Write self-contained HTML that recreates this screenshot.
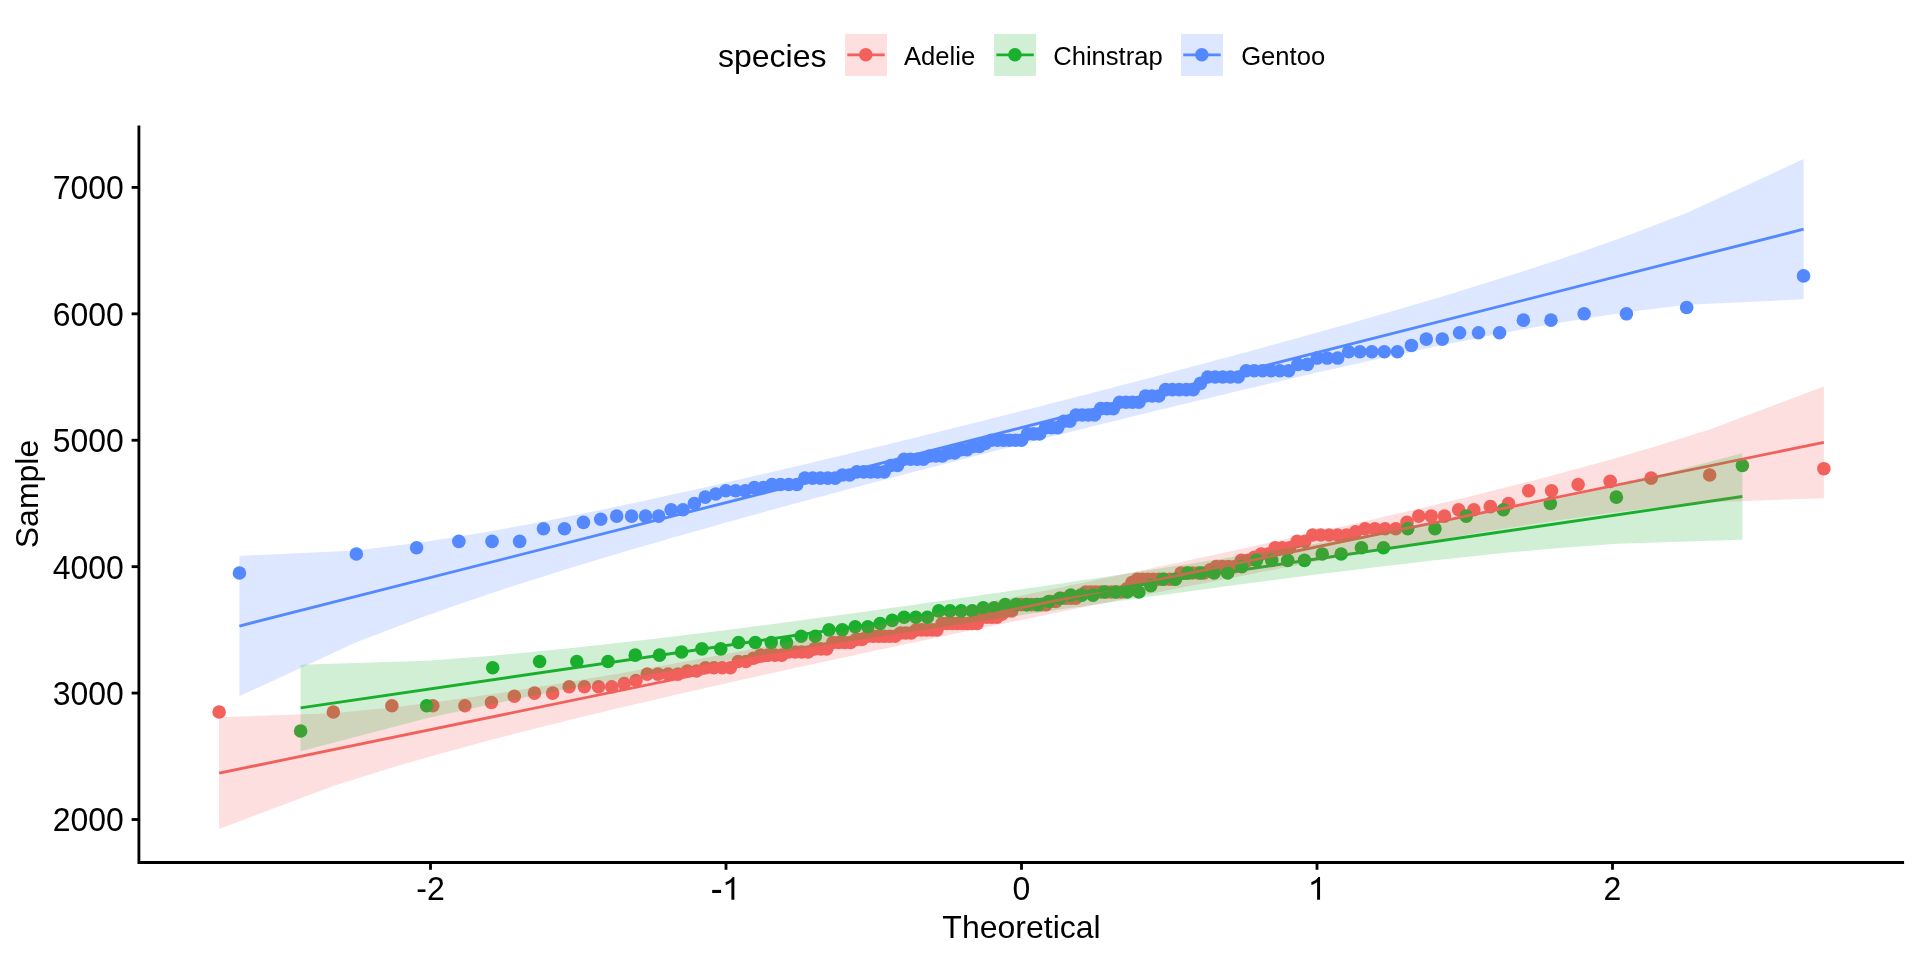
<!DOCTYPE html><html><head><meta charset="utf-8"><style>html,body{margin:0;padding:0;background:#fff;width:1920px;height:960px;overflow:hidden}svg{display:block;will-change:transform}text{font-family:"Liberation Sans",sans-serif;fill:#000}</style></head><body>
<svg width="1920" height="960" viewBox="0 0 1920 960">
<rect width="1920" height="960" fill="#fff"/>
<g fill="#F2615B">
<circle cx="219.14" cy="712.04" r="6.8"/><circle cx="333.33" cy="712.04" r="6.8"/><circle cx="391.87" cy="705.72" r="6.8"/><circle cx="432.83" cy="705.72" r="6.8"/><circle cx="464.86" cy="705.72" r="6.8"/><circle cx="491.44" cy="702.56" r="6.8"/><circle cx="514.31" cy="696.24" r="6.8"/><circle cx="534.49" cy="693.08" r="6.8"/><circle cx="552.63" cy="693.08" r="6.8"/><circle cx="569.16" cy="686.76" r="6.8"/><circle cx="584.38" cy="686.76" r="6.8"/><circle cx="598.52" cy="686.76" r="6.8"/><circle cx="611.76" cy="686.76" r="6.8"/><circle cx="624.22" cy="683.60" r="6.8"/><circle cx="636.01" cy="680.44" r="6.8"/><circle cx="647.22" cy="674.12" r="6.8"/><circle cx="657.91" cy="674.12" r="6.8"/><circle cx="668.15" cy="674.12" r="6.8"/><circle cx="677.98" cy="674.12" r="6.8"/><circle cx="687.45" cy="670.96" r="6.8"/><circle cx="696.58" cy="670.96" r="6.8"/><circle cx="705.41" cy="667.80" r="6.8"/><circle cx="713.97" cy="667.80" r="6.8"/><circle cx="722.28" cy="667.80" r="6.8"/><circle cx="730.36" cy="667.80" r="6.8"/><circle cx="738.23" cy="661.48" r="6.8"/><circle cx="745.90" cy="661.48" r="6.8"/><circle cx="753.39" cy="658.31" r="6.8"/><circle cx="760.71" cy="655.15" r="6.8"/><circle cx="767.87" cy="655.15" r="6.8"/><circle cx="774.89" cy="655.15" r="6.8"/><circle cx="781.77" cy="655.15" r="6.8"/><circle cx="788.53" cy="651.99" r="6.8"/><circle cx="795.16" cy="651.99" r="6.8"/><circle cx="801.69" cy="651.99" r="6.8"/><circle cx="808.10" cy="651.99" r="6.8"/><circle cx="814.42" cy="648.83" r="6.8"/><circle cx="820.65" cy="648.83" r="6.8"/><circle cx="826.78" cy="648.83" r="6.8"/><circle cx="832.84" cy="642.51" r="6.8"/><circle cx="838.81" cy="642.51" r="6.8"/><circle cx="844.72" cy="642.51" r="6.8"/><circle cx="850.55" cy="642.51" r="6.8"/><circle cx="856.31" cy="639.35" r="6.8"/><circle cx="862.02" cy="639.35" r="6.8"/><circle cx="867.66" cy="636.19" r="6.8"/><circle cx="873.25" cy="636.19" r="6.8"/><circle cx="878.79" cy="636.19" r="6.8"/><circle cx="884.28" cy="636.19" r="6.8"/><circle cx="889.72" cy="636.19" r="6.8"/><circle cx="895.12" cy="636.19" r="6.8"/><circle cx="900.47" cy="633.03" r="6.8"/><circle cx="905.79" cy="633.03" r="6.8"/><circle cx="911.06" cy="633.03" r="6.8"/><circle cx="916.31" cy="629.87" r="6.8"/><circle cx="921.52" cy="629.87" r="6.8"/><circle cx="926.70" cy="629.87" r="6.8"/><circle cx="931.85" cy="629.87" r="6.8"/><circle cx="936.97" cy="629.87" r="6.8"/><circle cx="942.07" cy="623.55" r="6.8"/><circle cx="947.14" cy="623.55" r="6.8"/><circle cx="952.19" cy="623.55" r="6.8"/><circle cx="957.23" cy="623.55" r="6.8"/><circle cx="962.24" cy="623.55" r="6.8"/><circle cx="967.24" cy="623.55" r="6.8"/><circle cx="972.22" cy="623.55" r="6.8"/><circle cx="977.19" cy="623.55" r="6.8"/><circle cx="982.14" cy="617.23" r="6.8"/><circle cx="987.08" cy="617.23" r="6.8"/><circle cx="992.02" cy="617.23" r="6.8"/><circle cx="996.94" cy="617.23" r="6.8"/><circle cx="1001.86" cy="614.07" r="6.8"/><circle cx="1006.78" cy="610.91" r="6.8"/><circle cx="1011.69" cy="610.91" r="6.8"/><circle cx="1016.59" cy="604.59" r="6.8"/><circle cx="1021.50" cy="604.59" r="6.8"/><circle cx="1026.41" cy="604.59" r="6.8"/><circle cx="1031.31" cy="604.59" r="6.8"/><circle cx="1036.22" cy="604.59" r="6.8"/><circle cx="1041.14" cy="604.59" r="6.8"/><circle cx="1046.06" cy="604.59" r="6.8"/><circle cx="1050.98" cy="601.43" r="6.8"/><circle cx="1055.92" cy="601.43" r="6.8"/><circle cx="1060.86" cy="598.26" r="6.8"/><circle cx="1065.81" cy="598.26" r="6.8"/><circle cx="1070.78" cy="598.26" r="6.8"/><circle cx="1075.76" cy="598.26" r="6.8"/><circle cx="1080.76" cy="595.10" r="6.8"/><circle cx="1085.77" cy="591.94" r="6.8"/><circle cx="1090.81" cy="591.94" r="6.8"/><circle cx="1095.86" cy="591.94" r="6.8"/><circle cx="1100.93" cy="591.94" r="6.8"/><circle cx="1106.03" cy="591.94" r="6.8"/><circle cx="1111.15" cy="591.94" r="6.8"/><circle cx="1116.30" cy="591.94" r="6.8"/><circle cx="1121.48" cy="591.94" r="6.8"/><circle cx="1126.69" cy="588.78" r="6.8"/><circle cx="1131.94" cy="582.46" r="6.8"/><circle cx="1137.21" cy="579.30" r="6.8"/><circle cx="1142.53" cy="579.30" r="6.8"/><circle cx="1147.88" cy="579.30" r="6.8"/><circle cx="1153.28" cy="579.30" r="6.8"/><circle cx="1158.72" cy="579.30" r="6.8"/><circle cx="1164.21" cy="579.30" r="6.8"/><circle cx="1169.75" cy="579.30" r="6.8"/><circle cx="1175.34" cy="579.30" r="6.8"/><circle cx="1180.98" cy="572.98" r="6.8"/><circle cx="1186.69" cy="572.98" r="6.8"/><circle cx="1192.45" cy="572.98" r="6.8"/><circle cx="1198.28" cy="572.98" r="6.8"/><circle cx="1204.19" cy="572.98" r="6.8"/><circle cx="1210.16" cy="569.82" r="6.8"/><circle cx="1216.22" cy="566.66" r="6.8"/><circle cx="1222.35" cy="566.66" r="6.8"/><circle cx="1228.58" cy="566.66" r="6.8"/><circle cx="1234.90" cy="566.66" r="6.8"/><circle cx="1241.31" cy="560.34" r="6.8"/><circle cx="1247.84" cy="560.34" r="6.8"/><circle cx="1254.47" cy="557.18" r="6.8"/><circle cx="1261.23" cy="554.02" r="6.8"/><circle cx="1268.11" cy="554.02" r="6.8"/><circle cx="1275.13" cy="547.70" r="6.8"/><circle cx="1282.29" cy="547.70" r="6.8"/><circle cx="1289.61" cy="547.70" r="6.8"/><circle cx="1297.10" cy="541.38" r="6.8"/><circle cx="1304.77" cy="541.38" r="6.8"/><circle cx="1312.64" cy="535.06" r="6.8"/><circle cx="1320.72" cy="535.06" r="6.8"/><circle cx="1329.03" cy="535.06" r="6.8"/><circle cx="1337.59" cy="535.06" r="6.8"/><circle cx="1346.42" cy="535.06" r="6.8"/><circle cx="1355.55" cy="531.89" r="6.8"/><circle cx="1365.02" cy="528.73" r="6.8"/><circle cx="1374.85" cy="528.73" r="6.8"/><circle cx="1385.09" cy="528.73" r="6.8"/><circle cx="1395.78" cy="528.73" r="6.8"/><circle cx="1406.99" cy="522.41" r="6.8"/><circle cx="1418.78" cy="516.09" r="6.8"/><circle cx="1431.24" cy="516.09" r="6.8"/><circle cx="1444.48" cy="516.09" r="6.8"/><circle cx="1458.62" cy="509.77" r="6.8"/><circle cx="1473.84" cy="509.77" r="6.8"/><circle cx="1490.37" cy="506.61" r="6.8"/><circle cx="1508.51" cy="503.45" r="6.8"/><circle cx="1528.69" cy="490.81" r="6.8"/><circle cx="1551.56" cy="490.81" r="6.8"/><circle cx="1578.14" cy="484.49" r="6.8"/><circle cx="1610.17" cy="481.33" r="6.8"/><circle cx="1651.13" cy="478.17" r="6.8"/><circle cx="1709.67" cy="475.01" r="6.8"/><circle cx="1823.86" cy="468.68" r="6.8"/>
</g>
<g fill="#1AB02E">
<circle cx="300.62" cy="731.01" r="6.8"/><circle cx="426.67" cy="705.72" r="6.8"/><circle cx="492.69" cy="667.80" r="6.8"/><circle cx="539.61" cy="661.48" r="6.8"/><circle cx="576.81" cy="661.48" r="6.8"/><circle cx="608.05" cy="661.48" r="6.8"/><circle cx="635.25" cy="655.15" r="6.8"/><circle cx="659.52" cy="655.15" r="6.8"/><circle cx="681.57" cy="651.99" r="6.8"/><circle cx="701.87" cy="648.83" r="6.8"/><circle cx="720.77" cy="648.83" r="6.8"/><circle cx="738.51" cy="642.51" r="6.8"/><circle cx="755.29" cy="642.51" r="6.8"/><circle cx="771.25" cy="642.51" r="6.8"/><circle cx="786.50" cy="642.51" r="6.8"/><circle cx="801.16" cy="636.19" r="6.8"/><circle cx="815.30" cy="636.19" r="6.8"/><circle cx="828.97" cy="629.87" r="6.8"/><circle cx="842.25" cy="629.87" r="6.8"/><circle cx="855.17" cy="626.71" r="6.8"/><circle cx="867.79" cy="626.71" r="6.8"/><circle cx="880.13" cy="623.55" r="6.8"/><circle cx="892.23" cy="620.39" r="6.8"/><circle cx="904.11" cy="617.23" r="6.8"/><circle cx="915.81" cy="617.23" r="6.8"/><circle cx="927.34" cy="617.23" r="6.8"/><circle cx="938.73" cy="610.91" r="6.8"/><circle cx="950.01" cy="610.91" r="6.8"/><circle cx="961.17" cy="610.91" r="6.8"/><circle cx="972.26" cy="610.91" r="6.8"/><circle cx="983.27" cy="607.75" r="6.8"/><circle cx="994.23" cy="607.75" r="6.8"/><circle cx="1005.15" cy="604.59" r="6.8"/><circle cx="1016.05" cy="604.59" r="6.8"/><circle cx="1026.95" cy="604.59" r="6.8"/><circle cx="1037.85" cy="604.59" r="6.8"/><circle cx="1048.77" cy="601.43" r="6.8"/><circle cx="1059.73" cy="598.26" r="6.8"/><circle cx="1070.74" cy="595.10" r="6.8"/><circle cx="1081.83" cy="595.10" r="6.8"/><circle cx="1092.99" cy="595.10" r="6.8"/><circle cx="1104.27" cy="591.94" r="6.8"/><circle cx="1115.66" cy="591.94" r="6.8"/><circle cx="1127.19" cy="591.94" r="6.8"/><circle cx="1138.89" cy="591.94" r="6.8"/><circle cx="1150.77" cy="585.62" r="6.8"/><circle cx="1162.87" cy="579.30" r="6.8"/><circle cx="1175.21" cy="579.30" r="6.8"/><circle cx="1187.83" cy="572.98" r="6.8"/><circle cx="1200.75" cy="572.98" r="6.8"/><circle cx="1214.03" cy="572.98" r="6.8"/><circle cx="1227.70" cy="572.98" r="6.8"/><circle cx="1241.84" cy="566.66" r="6.8"/><circle cx="1256.50" cy="560.34" r="6.8"/><circle cx="1271.75" cy="560.34" r="6.8"/><circle cx="1287.71" cy="560.34" r="6.8"/><circle cx="1304.49" cy="560.34" r="6.8"/><circle cx="1322.23" cy="554.02" r="6.8"/><circle cx="1341.13" cy="554.02" r="6.8"/><circle cx="1361.43" cy="547.70" r="6.8"/><circle cx="1383.48" cy="547.70" r="6.8"/><circle cx="1407.75" cy="528.73" r="6.8"/><circle cx="1434.95" cy="528.73" r="6.8"/><circle cx="1466.19" cy="516.09" r="6.8"/><circle cx="1503.39" cy="509.77" r="6.8"/><circle cx="1550.31" cy="503.45" r="6.8"/><circle cx="1616.33" cy="497.13" r="6.8"/><circle cx="1742.38" cy="465.52" r="6.8"/>
</g>
<g fill="#5389FF">
<circle cx="239.42" cy="572.98" r="6.8"/><circle cx="356.35" cy="554.02" r="6.8"/><circle cx="416.59" cy="547.70" r="6.8"/><circle cx="458.87" cy="541.38" r="6.8"/><circle cx="492.03" cy="541.38" r="6.8"/><circle cx="519.62" cy="541.38" r="6.8"/><circle cx="543.42" cy="528.73" r="6.8"/><circle cx="564.47" cy="528.73" r="6.8"/><circle cx="583.43" cy="522.41" r="6.8"/><circle cx="600.73" cy="519.25" r="6.8"/><circle cx="616.71" cy="516.09" r="6.8"/><circle cx="631.58" cy="516.09" r="6.8"/><circle cx="645.52" cy="516.09" r="6.8"/><circle cx="658.68" cy="516.09" r="6.8"/><circle cx="671.15" cy="509.77" r="6.8"/><circle cx="683.03" cy="509.77" r="6.8"/><circle cx="694.38" cy="503.45" r="6.8"/><circle cx="705.27" cy="497.13" r="6.8"/><circle cx="715.75" cy="493.97" r="6.8"/><circle cx="725.86" cy="490.81" r="6.8"/><circle cx="735.63" cy="490.81" r="6.8"/><circle cx="745.10" cy="490.81" r="6.8"/><circle cx="754.29" cy="487.65" r="6.8"/><circle cx="763.23" cy="487.65" r="6.8"/><circle cx="771.94" cy="484.49" r="6.8"/><circle cx="780.44" cy="484.49" r="6.8"/><circle cx="788.75" cy="484.49" r="6.8"/><circle cx="796.87" cy="484.49" r="6.8"/><circle cx="804.83" cy="478.17" r="6.8"/><circle cx="812.63" cy="478.17" r="6.8"/><circle cx="820.29" cy="478.17" r="6.8"/><circle cx="827.82" cy="478.17" r="6.8"/><circle cx="835.23" cy="478.17" r="6.8"/><circle cx="842.52" cy="475.01" r="6.8"/><circle cx="849.70" cy="475.01" r="6.8"/><circle cx="856.78" cy="471.85" r="6.8"/><circle cx="863.77" cy="471.85" r="6.8"/><circle cx="870.67" cy="471.85" r="6.8"/><circle cx="877.49" cy="471.85" r="6.8"/><circle cx="884.23" cy="471.85" r="6.8"/><circle cx="890.91" cy="465.52" r="6.8"/><circle cx="897.52" cy="465.52" r="6.8"/><circle cx="904.06" cy="459.20" r="6.8"/><circle cx="910.55" cy="459.20" r="6.8"/><circle cx="916.99" cy="459.20" r="6.8"/><circle cx="923.37" cy="459.20" r="6.8"/><circle cx="929.71" cy="456.04" r="6.8"/><circle cx="936.01" cy="456.04" r="6.8"/><circle cx="942.27" cy="456.04" r="6.8"/><circle cx="948.50" cy="452.88" r="6.8"/><circle cx="954.69" cy="452.88" r="6.8"/><circle cx="960.86" cy="449.72" r="6.8"/><circle cx="966.99" cy="449.72" r="6.8"/><circle cx="973.11" cy="446.56" r="6.8"/><circle cx="979.20" cy="446.56" r="6.8"/><circle cx="985.28" cy="443.40" r="6.8"/><circle cx="991.34" cy="440.24" r="6.8"/><circle cx="997.39" cy="440.24" r="6.8"/><circle cx="1003.42" cy="440.24" r="6.8"/><circle cx="1009.45" cy="440.24" r="6.8"/><circle cx="1015.48" cy="440.24" r="6.8"/><circle cx="1021.50" cy="440.24" r="6.8"/><circle cx="1027.52" cy="433.92" r="6.8"/><circle cx="1033.55" cy="433.92" r="6.8"/><circle cx="1039.58" cy="433.92" r="6.8"/><circle cx="1045.61" cy="427.60" r="6.8"/><circle cx="1051.66" cy="427.60" r="6.8"/><circle cx="1057.72" cy="427.60" r="6.8"/><circle cx="1063.80" cy="421.28" r="6.8"/><circle cx="1069.89" cy="421.28" r="6.8"/><circle cx="1076.01" cy="414.96" r="6.8"/><circle cx="1082.14" cy="414.96" r="6.8"/><circle cx="1088.31" cy="414.96" r="6.8"/><circle cx="1094.50" cy="414.96" r="6.8"/><circle cx="1100.73" cy="408.63" r="6.8"/><circle cx="1106.99" cy="408.63" r="6.8"/><circle cx="1113.29" cy="408.63" r="6.8"/><circle cx="1119.63" cy="402.31" r="6.8"/><circle cx="1126.01" cy="402.31" r="6.8"/><circle cx="1132.45" cy="402.31" r="6.8"/><circle cx="1138.94" cy="402.31" r="6.8"/><circle cx="1145.48" cy="395.99" r="6.8"/><circle cx="1152.09" cy="395.99" r="6.8"/><circle cx="1158.77" cy="395.99" r="6.8"/><circle cx="1165.51" cy="389.67" r="6.8"/><circle cx="1172.33" cy="389.67" r="6.8"/><circle cx="1179.23" cy="389.67" r="6.8"/><circle cx="1186.22" cy="389.67" r="6.8"/><circle cx="1193.30" cy="389.67" r="6.8"/><circle cx="1200.48" cy="383.35" r="6.8"/><circle cx="1207.77" cy="377.03" r="6.8"/><circle cx="1215.18" cy="377.03" r="6.8"/><circle cx="1222.71" cy="377.03" r="6.8"/><circle cx="1230.37" cy="377.03" r="6.8"/><circle cx="1238.17" cy="377.03" r="6.8"/><circle cx="1246.13" cy="370.71" r="6.8"/><circle cx="1254.25" cy="370.71" r="6.8"/><circle cx="1262.56" cy="370.71" r="6.8"/><circle cx="1271.06" cy="370.71" r="6.8"/><circle cx="1279.77" cy="370.71" r="6.8"/><circle cx="1288.71" cy="370.71" r="6.8"/><circle cx="1297.90" cy="364.39" r="6.8"/><circle cx="1307.37" cy="364.39" r="6.8"/><circle cx="1317.14" cy="358.07" r="6.8"/><circle cx="1327.25" cy="358.07" r="6.8"/><circle cx="1337.73" cy="358.07" r="6.8"/><circle cx="1348.62" cy="351.75" r="6.8"/><circle cx="1359.97" cy="351.75" r="6.8"/><circle cx="1371.85" cy="351.75" r="6.8"/><circle cx="1384.32" cy="351.75" r="6.8"/><circle cx="1397.48" cy="351.75" r="6.8"/><circle cx="1411.42" cy="345.43" r="6.8"/><circle cx="1426.29" cy="339.10" r="6.8"/><circle cx="1442.27" cy="339.10" r="6.8"/><circle cx="1459.57" cy="332.78" r="6.8"/><circle cx="1478.53" cy="332.78" r="6.8"/><circle cx="1499.58" cy="332.78" r="6.8"/><circle cx="1523.38" cy="320.14" r="6.8"/><circle cx="1550.97" cy="320.14" r="6.8"/><circle cx="1584.13" cy="313.82" r="6.8"/><circle cx="1626.41" cy="313.82" r="6.8"/><circle cx="1686.65" cy="307.50" r="6.8"/><circle cx="1803.58" cy="275.89" r="6.8"/>
</g>
<line x1="219.14" y1="773.15" x2="1823.86" y2="442.35" stroke="#F2615B" stroke-width="2.84"/>
<line x1="300.62" y1="707.95" x2="1742.38" y2="496.48" stroke="#1AB02E" stroke-width="2.84"/>
<line x1="239.42" y1="626.02" x2="1803.58" y2="229.18" stroke="#5389FF" stroke-width="2.84"/>
<path d="M219.14,717.33 L333.33,713.24 L391.87,707.46 L432.83,702.44 L464.86,698.08 L491.44,694.22 L514.31,690.74 L534.49,687.56 L552.63,684.63 L569.16,681.91 L584.38,679.35 L598.52,676.95 L611.76,674.66 L624.22,672.49 L636.01,670.41 L647.22,668.42 L657.91,666.50 L668.15,664.65 L677.98,662.87 L687.45,661.14 L696.58,659.46 L705.41,657.83 L713.97,656.24 L722.28,654.69 L730.36,653.17 L738.23,651.70 L745.90,650.25 L753.39,648.83 L760.71,647.44 L767.87,646.07 L774.89,644.73 L781.77,643.41 L788.53,642.11 L795.16,640.84 L801.69,639.58 L808.10,638.33 L814.42,637.11 L820.65,635.89 L826.78,634.70 L832.84,633.51 L838.81,632.34 L844.72,631.19 L850.55,630.04 L856.31,628.90 L862.02,627.78 L867.66,626.66 L873.25,625.56 L878.79,624.46 L884.28,623.37 L889.72,622.28 L895.12,621.21 L900.47,620.14 L905.79,619.08 L911.06,618.02 L916.31,616.97 L921.52,615.92 L926.70,614.88 L931.85,613.84 L936.97,612.81 L942.07,611.78 L947.14,610.76 L952.19,609.73 L957.23,608.71 L962.24,607.70 L967.24,606.68 L972.22,605.67 L977.19,604.65 L982.14,603.64 L987.08,602.63 L992.02,601.62 L996.94,600.62 L1001.86,599.61 L1006.78,598.60 L1011.69,597.59 L1016.59,596.58 L1021.50,595.57 L1026.41,594.56 L1031.31,593.54 L1036.22,592.53 L1041.14,591.51 L1046.06,590.49 L1050.98,589.47 L1055.92,588.44 L1060.86,587.42 L1065.81,586.38 L1070.78,585.35 L1075.76,584.31 L1080.76,583.26 L1085.77,582.21 L1090.81,581.16 L1095.86,580.10 L1100.93,579.03 L1106.03,577.96 L1111.15,576.88 L1116.30,575.80 L1121.48,574.70 L1126.69,573.60 L1131.94,572.49 L1137.21,571.37 L1142.53,570.24 L1147.88,569.10 L1153.28,567.95 L1158.72,566.79 L1164.21,565.62 L1169.75,564.44 L1175.34,563.24 L1180.98,562.03 L1186.69,560.80 L1192.45,559.56 L1198.28,558.30 L1204.19,557.03 L1210.16,555.73 L1216.22,554.42 L1222.35,553.09 L1228.58,551.73 L1234.90,550.35 L1241.31,548.95 L1247.84,547.52 L1254.47,546.06 L1261.23,544.58 L1268.11,543.06 L1275.13,541.51 L1282.29,539.92 L1289.61,538.29 L1297.10,536.62 L1304.77,534.91 L1312.64,533.14 L1320.72,531.32 L1329.03,529.45 L1337.59,527.51 L1346.42,525.50 L1355.55,523.41 L1365.02,521.24 L1374.85,518.97 L1385.09,516.60 L1395.78,514.11 L1406.99,511.48 L1418.78,508.69 L1431.24,505.73 L1444.48,502.56 L1458.62,499.14 L1473.84,495.42 L1490.37,491.33 L1508.51,486.78 L1528.69,481.63 L1551.56,475.68 L1578.14,468.59 L1610.17,459.74 L1651.13,447.87 L1709.67,429.52 L1823.86,386.53 L1823.86,498.17 L1709.67,502.25 L1651.13,508.03 L1610.17,513.05 L1578.14,517.41 L1551.56,521.28 L1528.69,524.76 L1508.51,527.93 L1490.37,530.86 L1473.84,533.58 L1458.62,536.14 L1444.48,538.55 L1431.24,540.83 L1418.78,543.01 L1406.99,545.08 L1395.78,547.08 L1385.09,548.99 L1374.85,550.84 L1365.02,552.63 L1355.55,554.36 L1346.42,556.04 L1337.59,557.67 L1329.03,559.26 L1320.72,560.81 L1312.64,562.32 L1304.77,563.80 L1297.10,565.25 L1289.61,566.66 L1282.29,568.05 L1275.13,569.42 L1268.11,570.76 L1261.23,572.08 L1254.47,573.38 L1247.84,574.66 L1241.31,575.92 L1234.90,577.16 L1228.58,578.39 L1222.35,579.60 L1216.22,580.80 L1210.16,581.98 L1204.19,583.15 L1198.28,584.31 L1192.45,585.45 L1186.69,586.59 L1180.98,587.71 L1175.34,588.83 L1169.75,589.94 L1164.21,591.04 L1158.72,592.13 L1153.28,593.21 L1147.88,594.28 L1142.53,595.35 L1137.21,596.42 L1131.94,597.47 L1126.69,598.52 L1121.48,599.57 L1116.30,600.61 L1111.15,601.65 L1106.03,602.68 L1100.93,603.71 L1095.86,604.74 L1090.81,605.76 L1085.77,606.78 L1080.76,607.80 L1075.76,608.81 L1070.78,609.83 L1065.81,610.84 L1060.86,611.85 L1055.92,612.86 L1050.98,613.87 L1046.06,614.88 L1041.14,615.89 L1036.22,616.89 L1031.31,617.90 L1026.41,618.91 L1021.50,619.92 L1016.59,620.94 L1011.69,621.95 L1006.78,622.96 L1001.86,623.98 L996.94,625.00 L992.02,626.02 L987.08,627.05 L982.14,628.08 L977.19,629.11 L972.22,630.14 L967.24,631.18 L962.24,632.23 L957.23,633.28 L952.19,634.33 L947.14,635.39 L942.07,636.46 L936.97,637.53 L931.85,638.61 L926.70,639.70 L921.52,640.79 L916.31,641.89 L911.06,643.00 L905.79,644.12 L900.47,645.25 L895.12,646.39 L889.72,647.54 L884.28,648.70 L878.79,649.87 L873.25,651.06 L867.66,652.25 L862.02,653.47 L856.31,654.69 L850.55,655.93 L844.72,657.19 L838.81,658.47 L832.84,659.76 L826.78,661.07 L820.65,662.41 L814.42,663.76 L808.10,665.14 L801.69,666.54 L795.16,667.97 L788.53,669.43 L781.77,670.92 L774.89,672.43 L767.87,673.99 L760.71,675.57 L753.39,677.20 L745.90,678.87 L738.23,680.59 L730.36,682.35 L722.28,684.17 L713.97,686.05 L705.41,687.99 L696.58,690.00 L687.45,692.08 L677.98,694.25 L668.15,696.52 L657.91,698.89 L647.22,701.39 L636.01,704.01 L624.22,706.80 L611.76,709.76 L598.52,712.93 L584.38,716.36 L569.16,720.08 L552.63,724.16 L534.49,728.71 L514.31,733.86 L491.44,739.81 L464.86,746.91 L432.83,755.75 L391.87,767.62 L333.33,785.97 L219.14,828.97Z" fill="#F2615B" fill-opacity="0.2"/>
<path d="M300.62,664.71 L426.67,660.70 L492.69,655.68 L539.61,651.33 L576.81,647.52 L608.05,644.12 L635.25,641.03 L659.52,638.18 L681.57,635.52 L701.87,633.03 L720.77,630.66 L738.51,628.41 L755.29,626.25 L771.25,624.18 L786.50,622.17 L801.16,620.23 L815.30,618.34 L828.97,616.50 L842.25,614.69 L855.17,612.93 L867.79,611.19 L880.13,609.49 L892.23,607.81 L904.11,606.15 L915.81,604.50 L927.34,602.87 L938.73,601.26 L950.01,599.65 L961.17,598.05 L972.26,596.46 L983.27,594.87 L994.23,593.28 L1005.15,591.69 L1016.05,590.10 L1026.95,588.50 L1037.85,586.90 L1048.77,585.28 L1059.73,583.66 L1070.74,582.02 L1081.83,580.36 L1092.99,578.68 L1104.27,576.98 L1115.66,575.25 L1127.19,573.50 L1138.89,571.71 L1150.77,569.88 L1162.87,568.02 L1175.21,566.10 L1187.83,564.14 L1200.75,562.11 L1214.03,560.02 L1227.70,557.85 L1241.84,555.59 L1256.50,553.24 L1271.75,550.77 L1287.71,548.16 L1304.49,545.40 L1322.23,542.44 L1341.13,539.26 L1361.43,535.80 L1383.48,531.99 L1407.75,527.72 L1434.95,522.83 L1466.19,517.07 L1503.39,509.97 L1550.31,500.55 L1616.33,486.20 L1742.38,453.23 L1742.38,539.72 L1616.33,543.73 L1550.31,548.75 L1503.39,553.10 L1466.19,556.91 L1434.95,560.31 L1407.75,563.40 L1383.48,566.25 L1361.43,568.91 L1341.13,571.40 L1322.23,573.77 L1304.49,576.02 L1287.71,578.18 L1271.75,580.25 L1256.50,582.26 L1241.84,584.20 L1227.70,586.09 L1214.03,587.93 L1200.75,589.74 L1187.83,591.50 L1175.21,593.24 L1162.87,594.94 L1150.77,596.62 L1138.89,598.29 L1127.19,599.93 L1115.66,601.56 L1104.27,603.17 L1092.99,604.78 L1081.83,606.38 L1070.74,607.97 L1059.73,609.56 L1048.77,611.15 L1037.85,612.74 L1026.95,614.33 L1016.05,615.93 L1005.15,617.53 L994.23,619.15 L983.27,620.77 L972.26,622.42 L961.17,624.07 L950.01,625.75 L938.73,627.45 L927.34,629.18 L915.81,630.93 L904.11,632.72 L892.23,634.55 L880.13,636.41 L867.79,638.33 L855.17,640.29 L842.25,642.32 L828.97,644.41 L815.30,646.58 L801.16,648.84 L786.50,651.19 L771.25,653.67 L755.29,656.27 L738.51,659.04 L720.77,661.99 L701.87,665.17 L681.57,668.63 L659.52,672.44 L635.25,676.71 L608.05,681.60 L576.81,687.36 L539.61,694.46 L492.69,703.88 L426.67,718.23 L300.62,751.20Z" fill="#1AB02E" fill-opacity="0.2"/>
<path d="M239.42,555.88 L356.35,550.44 L416.59,542.98 L458.87,536.51 L492.03,530.89 L519.62,525.89 L543.42,521.39 L564.47,517.27 L583.43,513.47 L600.73,509.92 L616.71,506.58 L631.58,503.43 L645.52,500.44 L658.68,497.59 L671.15,494.86 L683.03,492.23 L694.38,489.70 L705.27,487.26 L715.75,484.89 L725.86,482.60 L735.63,480.36 L745.10,478.19 L754.29,476.07 L763.23,473.99 L771.94,471.97 L780.44,469.98 L788.75,468.03 L796.87,466.12 L804.83,464.24 L812.63,462.39 L820.29,460.56 L827.82,458.77 L835.23,457.00 L842.52,455.25 L849.70,453.52 L856.78,451.81 L863.77,450.12 L870.67,448.45 L877.49,446.79 L884.23,445.15 L890.91,443.52 L897.52,441.91 L904.06,440.30 L910.55,438.71 L916.99,437.13 L923.37,435.55 L929.71,433.99 L936.01,432.43 L942.27,430.87 L948.50,429.33 L954.69,427.79 L960.86,426.25 L966.99,424.72 L973.11,423.19 L979.20,421.66 L985.28,420.14 L991.34,418.61 L997.39,417.09 L1003.42,415.57 L1009.45,414.04 L1015.48,412.52 L1021.50,410.99 L1027.52,409.46 L1033.55,407.93 L1039.58,406.39 L1045.61,404.85 L1051.66,403.31 L1057.72,401.76 L1063.80,400.20 L1069.89,398.63 L1076.01,397.06 L1082.14,395.48 L1088.31,393.89 L1094.50,392.29 L1100.73,390.67 L1106.99,389.05 L1113.29,387.41 L1119.63,385.76 L1126.01,384.09 L1132.45,382.41 L1138.94,380.71 L1145.48,378.99 L1152.09,377.26 L1158.77,375.50 L1165.51,373.72 L1172.33,371.91 L1179.23,370.08 L1186.22,368.23 L1193.30,366.34 L1200.48,364.43 L1207.77,362.48 L1215.18,360.49 L1222.71,358.47 L1230.37,356.40 L1238.17,354.29 L1246.13,352.13 L1254.25,349.92 L1262.56,347.66 L1271.06,345.33 L1279.77,342.94 L1288.71,340.48 L1297.90,337.94 L1307.37,335.31 L1317.14,332.58 L1327.25,329.75 L1337.73,326.80 L1348.62,323.72 L1359.97,320.48 L1371.85,317.08 L1384.32,313.48 L1397.48,309.66 L1411.42,305.58 L1426.29,301.18 L1442.27,296.41 L1459.57,291.18 L1478.53,285.36 L1499.58,278.80 L1523.38,271.23 L1550.97,262.22 L1584.13,251.02 L1626.41,236.03 L1686.65,212.93 L1803.58,159.04 L1803.58,299.31 L1686.65,304.75 L1626.41,312.21 L1584.13,318.68 L1550.97,324.31 L1523.38,329.30 L1499.58,333.81 L1478.53,337.92 L1459.57,341.73 L1442.27,345.28 L1426.29,348.61 L1411.42,351.76 L1397.48,354.75 L1384.32,357.61 L1371.85,360.34 L1359.97,362.96 L1348.62,365.49 L1337.73,367.94 L1327.25,370.30 L1317.14,372.60 L1307.37,374.83 L1297.90,377.01 L1288.71,379.13 L1279.77,381.20 L1271.06,383.23 L1262.56,385.22 L1254.25,387.17 L1246.13,389.08 L1238.17,390.96 L1230.37,392.81 L1222.71,394.63 L1215.18,396.43 L1207.77,398.20 L1200.48,399.95 L1193.30,401.68 L1186.22,403.38 L1179.23,405.07 L1172.33,406.75 L1165.51,408.40 L1158.77,410.05 L1152.09,411.67 L1145.48,413.29 L1138.94,414.89 L1132.45,416.49 L1126.01,418.07 L1119.63,419.64 L1113.29,421.21 L1106.99,422.77 L1100.73,424.32 L1094.50,425.87 L1088.31,427.41 L1082.14,428.95 L1076.01,430.48 L1069.89,432.01 L1063.80,433.53 L1057.72,435.06 L1051.66,436.58 L1045.61,438.11 L1039.58,439.63 L1033.55,441.15 L1027.52,442.68 L1021.50,444.20 L1015.48,445.73 L1009.45,447.27 L1003.42,448.80 L997.39,450.34 L991.34,451.89 L985.28,453.44 L979.20,455.00 L973.11,456.56 L966.99,458.14 L960.86,459.72 L954.69,461.31 L948.50,462.91 L942.27,464.52 L936.01,466.15 L929.71,467.79 L923.37,469.44 L916.99,471.10 L910.55,472.79 L904.06,474.48 L897.52,476.20 L890.91,477.94 L884.23,479.70 L877.49,481.48 L870.67,483.28 L863.77,485.11 L856.78,486.97 L849.70,488.85 L842.52,490.77 L835.23,492.72 L827.82,494.71 L820.29,496.73 L812.63,498.80 L804.83,500.90 L796.87,503.06 L788.75,505.27 L780.44,507.54 L771.94,509.86 L763.23,512.25 L754.29,514.72 L745.10,517.26 L735.63,519.89 L725.86,522.62 L715.75,525.45 L705.27,528.40 L694.38,531.48 L683.03,534.71 L671.15,538.11 L658.68,541.71 L645.52,545.53 L631.58,549.62 L616.71,554.01 L600.73,558.79 L583.43,564.02 L564.47,569.83 L543.42,576.40 L519.62,583.97 L492.03,592.97 L458.87,604.17 L416.59,619.16 L356.35,642.27 L239.42,696.16Z" fill="#5389FF" fill-opacity="0.2"/>
<path d="M138.91,125.54 V862.46 H1904.09" fill="none" stroke="#000" stroke-width="2.84" stroke-linejoin="miter"/>
<line x1="131.61" y1="819.50" x2="138.91" y2="819.50" stroke="#000" stroke-width="2.84"/>
<text transform="translate(123.8,819.80) scale(1,1.05)" y="11" font-size="32" text-anchor="end">2000</text>
<line x1="131.61" y1="693.08" x2="138.91" y2="693.08" stroke="#000" stroke-width="2.84"/>
<text transform="translate(123.8,693.38) scale(1,1.05)" y="11" font-size="32" text-anchor="end">3000</text>
<line x1="131.61" y1="566.66" x2="138.91" y2="566.66" stroke="#000" stroke-width="2.84"/>
<text transform="translate(123.8,566.96) scale(1,1.05)" y="11" font-size="32" text-anchor="end">4000</text>
<line x1="131.61" y1="440.24" x2="138.91" y2="440.24" stroke="#000" stroke-width="2.84"/>
<text transform="translate(123.8,440.54) scale(1,1.05)" y="11" font-size="32" text-anchor="end">5000</text>
<line x1="131.61" y1="313.82" x2="138.91" y2="313.82" stroke="#000" stroke-width="2.84"/>
<text transform="translate(123.8,314.12) scale(1,1.05)" y="11" font-size="32" text-anchor="end">6000</text>
<line x1="131.61" y1="187.40" x2="138.91" y2="187.40" stroke="#000" stroke-width="2.84"/>
<text transform="translate(123.8,187.70) scale(1,1.05)" y="11" font-size="32" text-anchor="end">7000</text>
<line x1="430.50" y1="862.46" x2="430.50" y2="869.76" stroke="#000" stroke-width="2.84"/>
<text transform="translate(430.50,888.6) scale(1,1.05)" y="11" font-size="32" text-anchor="middle">-2</text>
<line x1="726.00" y1="862.46" x2="726.00" y2="869.76" stroke="#000" stroke-width="2.84"/>
<path d="M734.35,877.1 V899.8 H731.40 V882.1 C729.90,883.6 727.90,884.4 725.80,885.0 L725.55,882.3 C728.40,881.3 731.10,879.6 732.70,877.1 Z" fill="#000"/>
<rect x="712.2" y="889.9" width="8.9" height="3.1" fill="#000"/>
<line x1="1021.50" y1="862.46" x2="1021.50" y2="869.76" stroke="#000" stroke-width="2.84"/>
<text transform="translate(1021.50,888.6) scale(1,1.05)" y="11" font-size="32" text-anchor="middle">0</text>
<line x1="1317.00" y1="862.46" x2="1317.00" y2="869.76" stroke="#000" stroke-width="2.84"/>
<path d="M1320.05,877.1 V899.8 H1317.10 V882.1 C1315.60,883.6 1313.60,884.4 1311.50,885.0 L1311.25,882.3 C1314.10,881.3 1316.80,879.6 1318.40,877.1 Z" fill="#000"/>
<line x1="1612.50" y1="862.46" x2="1612.50" y2="869.76" stroke="#000" stroke-width="2.84"/>
<text transform="translate(1612.50,888.6) scale(1,1.05)" y="11" font-size="32" text-anchor="middle">2</text>
<text x="1021.50" y="938" font-size="32" text-anchor="middle">Theoretical</text>
<text transform="translate(38.2,494.00) rotate(-90)" font-size="32" text-anchor="middle">Sample</text>
<text x="718" y="66.5" font-size="32">species</text>
<rect x="845" y="33.9" width="42" height="42" fill="#F2615B" fill-opacity="0.2"/>
<line x1="847.3" y1="54.8" x2="884.7" y2="54.8" stroke="#F2615B" stroke-width="2.84"/>
<circle cx="865.8" cy="54.8" r="6.8" fill="#F2615B"/>
<text x="904" y="65" font-size="25.6">Adelie</text>
<rect x="994.1" y="33.9" width="42" height="42" fill="#1AB02E" fill-opacity="0.2"/>
<line x1="996.4" y1="54.8" x2="1033.8" y2="54.8" stroke="#1AB02E" stroke-width="2.84"/>
<circle cx="1014.9" cy="54.8" r="6.8" fill="#1AB02E"/>
<text x="1053.2" y="65" font-size="25.6">Chinstrap</text>
<rect x="1181" y="33.9" width="42" height="42" fill="#5389FF" fill-opacity="0.2"/>
<line x1="1183.3" y1="54.8" x2="1220.7" y2="54.8" stroke="#5389FF" stroke-width="2.84"/>
<circle cx="1201.8" cy="54.8" r="6.8" fill="#5389FF"/>
<text x="1241.2" y="65" font-size="25.6">Gentoo</text>
</svg></body></html>
